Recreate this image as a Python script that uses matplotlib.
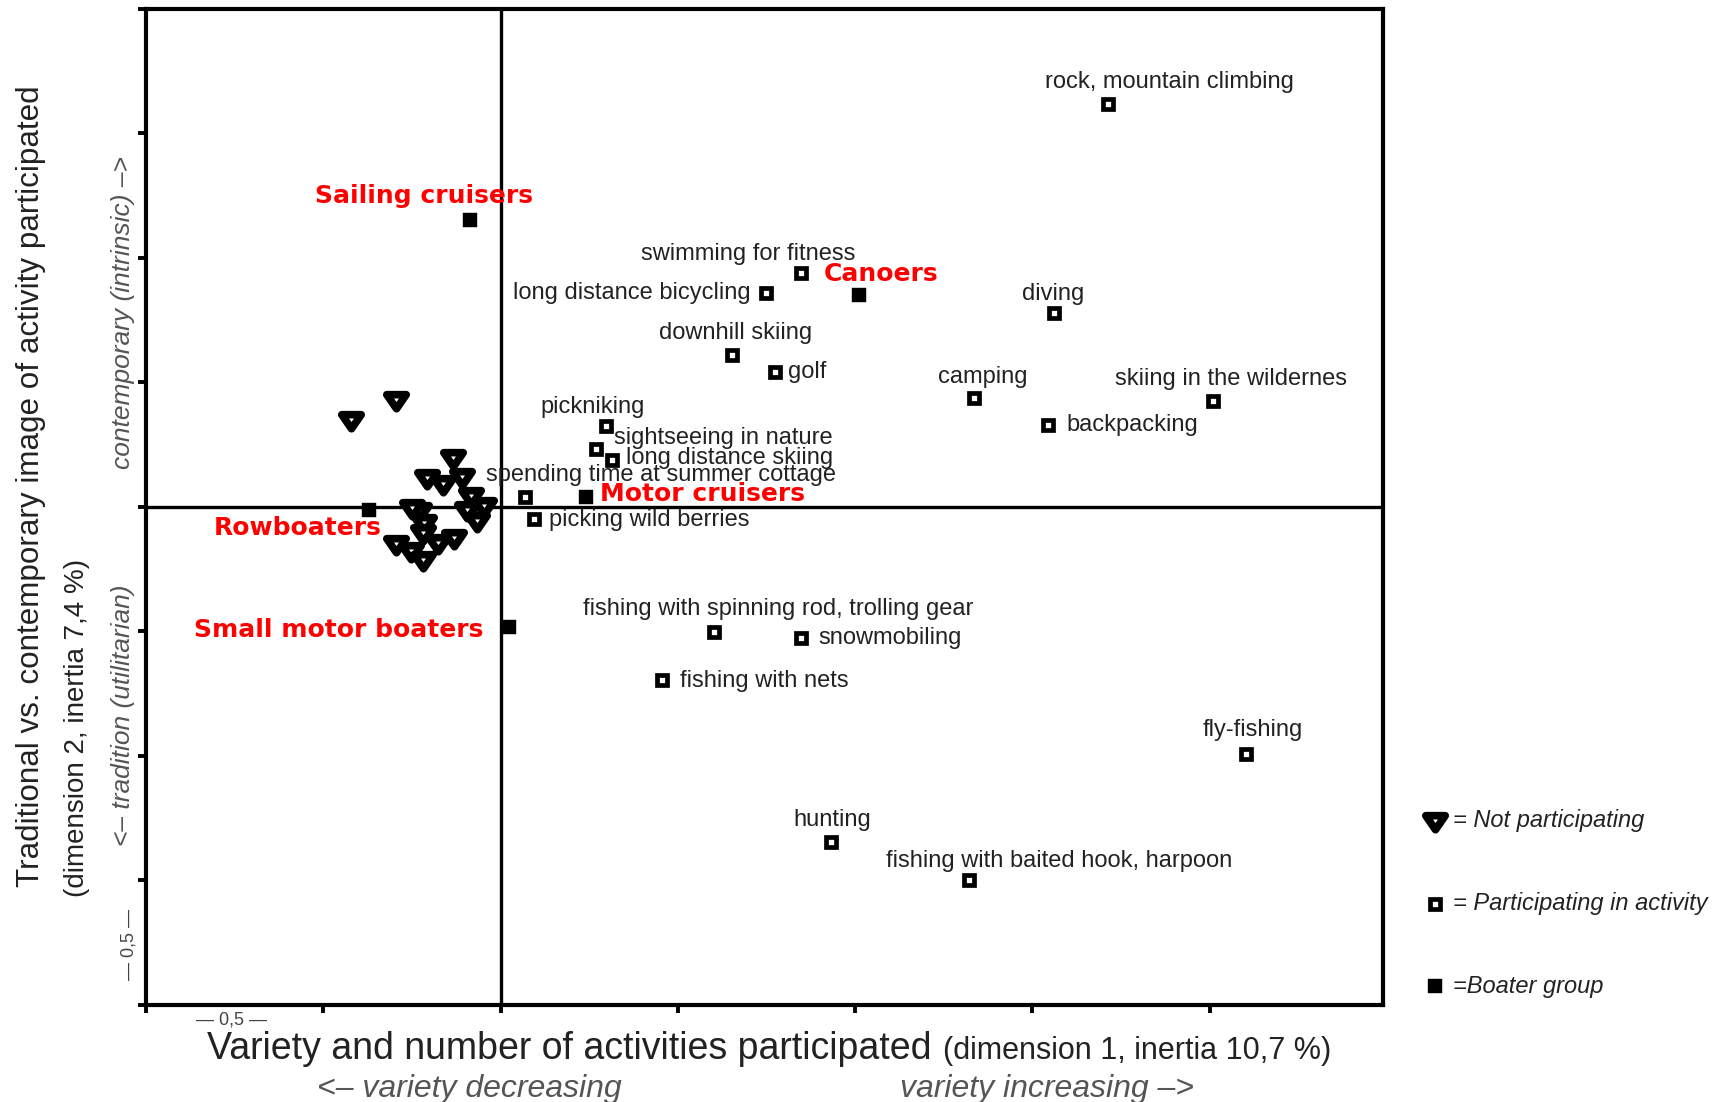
import matplotlib
matplotlib.use("Agg")
import matplotlib.pyplot as plt
from matplotlib.path import Path
import numpy as np

# activities (participating), dimension 1 / dimension 2 scores
activities = ["rock, mountain climbing", "swimming for fitness", "long distance bicycling",
              "diving", "downhill skiing", "golf", "camping", "skiing in the wildernes",
              "backpacking", "pickniking", "sightseeing in nature", "long distance skiing",
              "spending time at summer cottage", "picking wild berries",
              "fishing with spinning rod, trolling gear", "snowmobiling", "fishing with nets",
              "fly-fishing", "hunting", "fishing with baited hook, harpoon"]
act_x = [0.857, 0.424, 0.374, 0.780, 0.326, 0.387, 0.668, 1.005, 0.772, 0.148,
         0.135, 0.157, 0.034, 0.047, 0.301, 0.424, 0.228, 1.051, 0.466, 0.661]
act_y = [0.808, 0.469, 0.429, 0.389, 0.305, 0.270, 0.219, 0.212, 0.164, 0.162,
         0.117, 0.095, 0.020, -0.024, -0.252, -0.263, -0.347, -0.496, -0.673, -0.750]

# boater groups
groups = ["Sailing cruisers", "Canoers", "Motor cruisers", "Rowboaters", "Small motor boaters"]
grp_x = [-0.043, 0.505, 0.120, -0.186, 0.011]
grp_y = [0.577, 0.425, 0.020, -0.007, -0.241]

# not participating
notp_x = [-0.148, -0.211, -0.067, -0.104, -0.081, -0.054, -0.042, -0.035, -0.033, -0.047,
          -0.115, -0.108, -0.110, -0.089, -0.066, -0.148, -0.127, -0.109, -0.024, -0.125]
notp_y = [0.215, 0.175, 0.098, 0.058, 0.046, 0.061, 0.021, -0.009, -0.029, -0.006,
          -0.009, -0.032, -0.052, -0.072, -0.062, -0.075, -0.088, -0.106, 0.001, -0.002]

# label placement (offset in points, horizontal alignment)
act_lab = [((44, 16), "center"), ((-38, 14), "center"), ((-11, 0), "right"),
           ((0, 14), "center"), ((3, 16), "center"), ((9, 0), "left"),
           ((6, 15), "center"), ((13, 16), "center"), ((13, 0), "left"),
           ((-9, 14), "center"), ((13, 8), "left"), ((10, 1.5), "left"),
           ((98, 16), "center"), ((11, -1), "left"), ((46, 17), "center"),
           ((12, 0), "left"), ((13, -1), "left"), ((5, 17), "center"),
           ((1, 16), "center"), ((65, 14), "center")]
grp_lab = [((-33, 17), "center"), ((-25, 15), "left"), ((10, 2), "left"),
           ((-51, -13), "center"), ((-122, -2), "center")]

plt.rcParams['font.family'] = ['Liberation Sans', 'DejaVu Sans']

# wide, downward pointing triangle
tri = Path([(-1, 0.6), (1, 0.6), (0, -0.85), (-1, 0.6)], closed=True)
tri_style = dict(marker=tri, ms=14, mfc='white', mec='black', mew=5.5)
box_style = dict(marker='s', ms=7.5, mfc='white', mec='black', mew=3.4)
grp_style = dict(marker='s', ms=9.5, mfc='black', mec='black', mew=0.3)

fig = plt.figure(figsize=(17.23, 11.02), dpi=100)
ax = fig.add_axes([0.0849, 0.088, 0.7179, 0.904])

ax.axhline(0, color='black', lw=2.4, zorder=1)
ax.axvline(0, color='black', lw=2.4, zorder=1)

ax.plot(notp_x, notp_y, ls='none', zorder=3, **tri_style)
ax.plot(act_x, act_y, ls='none', zorder=3, **box_style)
ax.plot(grp_x, grp_y, ls='none', zorder=3, **grp_style)

for name, x, y, (off, ha) in zip(activities, act_x, act_y, act_lab):
    ax.annotate(name, (x, y), xytext=off, textcoords='offset points', ha=ha, va='center',
                fontsize=17, color='#222222', zorder=4)
for name, x, y, (off, ha) in zip(groups, grp_x, grp_y, grp_lab):
    ax.annotate(name, (x, y), xytext=off, textcoords='offset points', ha=ha, va='center',
                fontsize=18, color='#ff0000', fontweight='bold', family='DejaVu Sans', zorder=5)

ax.set_xlim(-0.5, 1.245)
ax.set_ylim(-1.0, 1.0)
ax.set_xticks(np.arange(-0.5, 1.01, 0.25))
ax.set_yticks(np.arange(-1.0, 1.01, 0.25))
ax.set_xticklabels([])
ax.set_yticklabels([])
ax.tick_params(direction='out', length=6, width=2.8, color='black')
for s in ax.spines.values():
    s.set_linewidth(3)

# odd axis number labels
ax.text(-0.38, -0.006, "\u2014 0,5 \u2014", transform=ax.get_xaxis_transform(),
        ha='center', va='top', fontsize=13, color='#444444')
ax.text(-0.007, -0.878, "\u2014 0,5 \u2014", transform=ax.get_yaxis_transform(),
        ha='right', va='center', rotation=90, fontsize=13, color='#444444')

# axis titles
fig.text(0.5465, 0.039, "Variety and number of activities participated ", ha='right',
         va='baseline', fontsize=27, color='#222222')
fig.text(0.5475, 0.039, "(dimension 1, inertia 10,7 %)", ha='left', va='baseline',
         fontsize=22, color='#222222')
fig.text(0.2725, 0.012, "<\u2013 variety decreasing", ha='center', va='center',
         fontsize=23, style='italic', color='#555555')
fig.text(0.6075, 0.012, "variety increasing \u2013>", ha='center', va='center',
         fontsize=23, style='italic', color='#555555')

fig.text(0.0179, 0.559, "Traditional vs. contemporary image of activity participated",
         rotation=90, ha='center', va='center', fontsize=22.6, color='#222222')
fig.text(0.0447, 0.339, "(dimension 2, inertia 7,4 %)", rotation=90, ha='center',
         va='center', fontsize=20, color='#222222')
fig.text(0.0715, 0.716, "contemporary (intrinsic) \u2013>", rotation=90, ha='center',
         va='center', fontsize=19, style='italic', color='#555555')
fig.text(0.0715, 0.351, "<\u2013 tradition (utilitarian)", rotation=90, ha='center',
         va='center', fontsize=19, style='italic', color='#555555')

# key
for yk, st in zip([0.255, 0.18, 0.105], [tri_style, box_style, grp_style]):
    fig.lines.append(plt.Line2D([0.833], [yk], transform=fig.transFigure, **st))
fig.text(0.8435, 0.255, "= Not participating", ha='left', va='center', fontsize=17,
         style='italic', color='#222222')
fig.text(0.8435, 0.18, "= Participating in activity", ha='left', va='center', fontsize=17,
         style='italic', color='#222222')
fig.text(0.8435, 0.105, "=Boater group", ha='left', va='center', fontsize=17,
         style='italic', color='#222222')

fig.savefig("out.png", dpi=100)
